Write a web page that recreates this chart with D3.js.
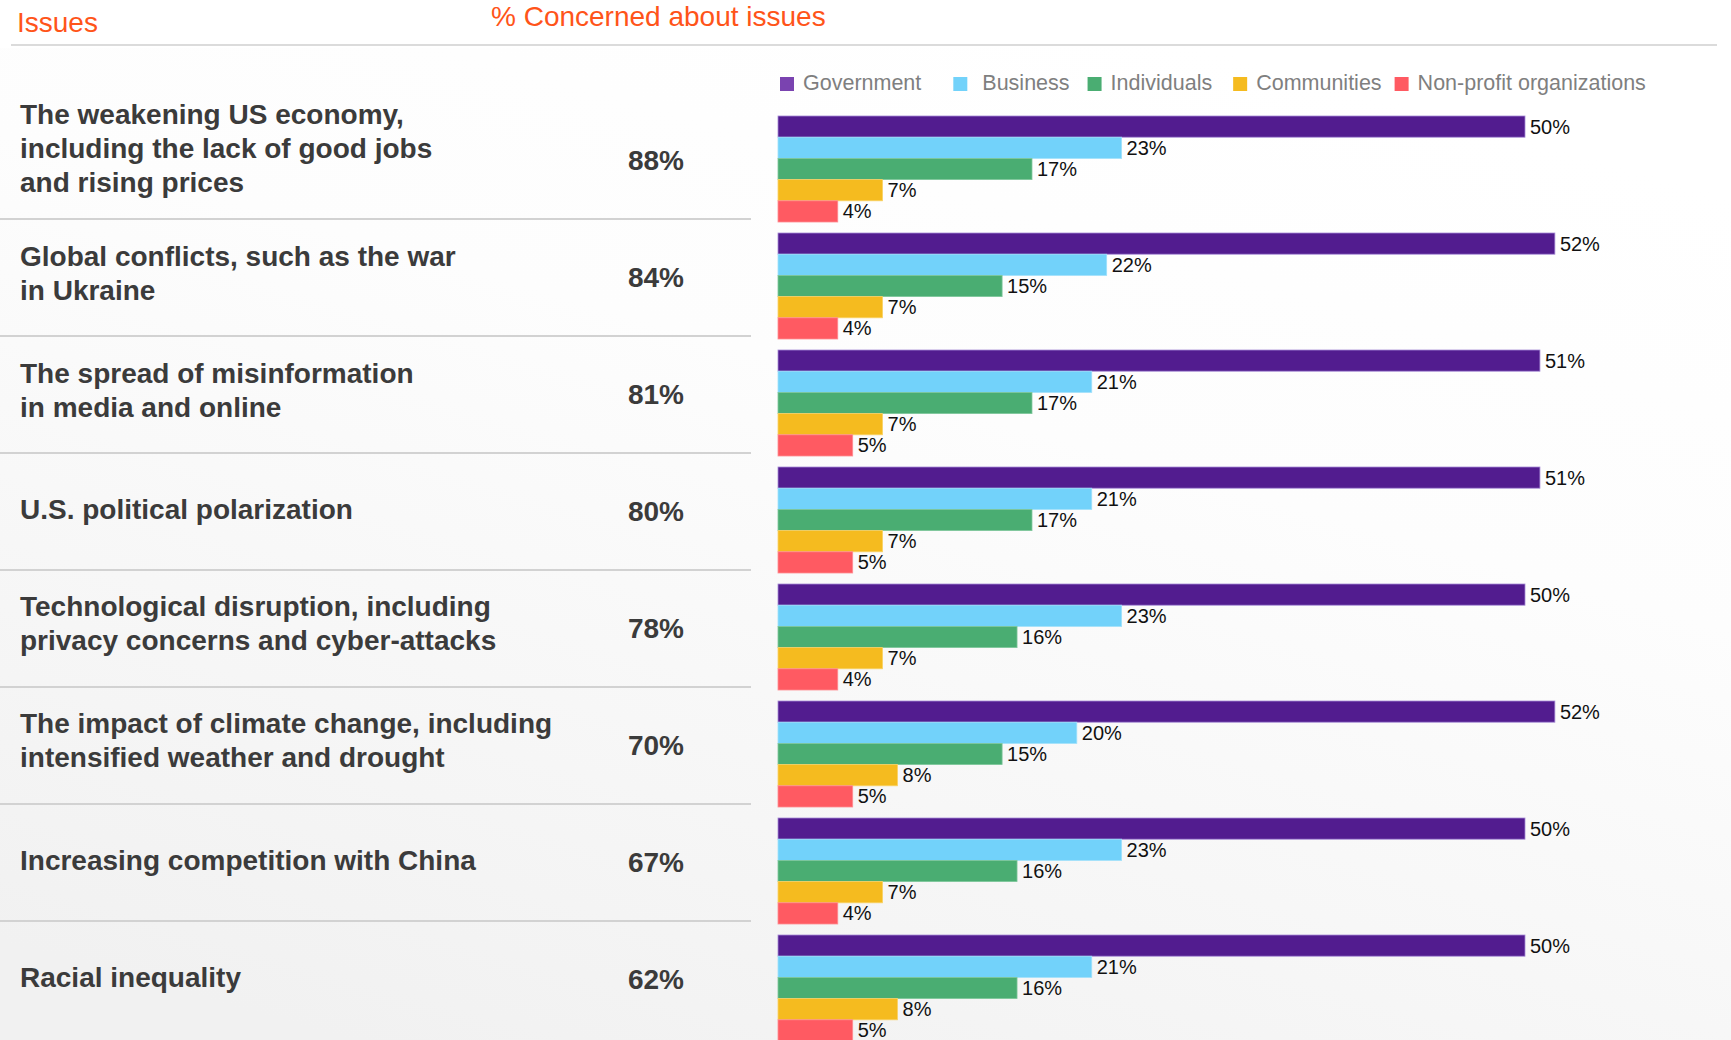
<!DOCTYPE html>
<html>
<head>
<meta charset="utf-8">
<script src="https://cdn.jsdelivr.net/npm/d3@7"></script>
<style>
  body { margin: 0; background: #fff; }
  svg { display: block; font-family: "Liberation Sans", Arial, Helvetica, sans-serif; }
</style>
</head>
<body>
<div id="chart"></div>
<script>
// data
const issues = [
  'The weakening US economy,\nincluding the lack of good jobs\nand rising prices',
  'Global conflicts, such as the war\nin Ukraine',
  'The spread of misinformation\nin media and online',
  'U.S. political polarization',
  'Technological disruption, including\nprivacy concerns and cyber-attacks',
  'The impact of climate change, including\nintensified weather and drought',
  'Increasing competition with China',
  'Racial inequality'
]
const concerned = [88, 84, 81, 80, 78, 70, 67, 62]
const seriesNames = ['Government', 'Business', 'Individuals', 'Communities', 'Non-profit organizations']
const government = [50, 52, 51, 51, 50, 52, 50, 50]
const business = [23, 22, 21, 21, 23, 20, 23, 21]
const individuals = [17, 15, 17, 17, 16, 15, 16, 16]
const communities = [7, 7, 7, 7, 7, 8, 7, 8]
const nonprofit = [4, 4, 5, 5, 4, 5, 4, 5]

const seriesValues = [government, business, individuals, communities, nonprofit]
const colors = ['#521c8f', '#72d2fa', '#4aad72', '#f5bb1f', '#ff5a62']
const strokes = ['#a68bd6', '#9fe0fb', '#7fc79c', '#f9d266', '#ff8c92']
const legendColors = ['#7a43b0', '#72d2fa', '#4aad72', '#f5bb1f', '#ff5a62']

const width = 1731, height = 1040

const svg = d3.select('#chart').append('svg')
  .attr('width', width)
  .attr('height', height)

// faint background shading, heavier towards the bottom left
const defs = svg.append('defs')
const grad = defs.append('linearGradient')
  .attr('id', 'bgfade')
  .attr('x1', '70%').attr('y1', '0%')
  .attr('x2', '20%').attr('y2', '100%')
grad.append('stop').attr('offset', '0%').attr('stop-color', '#ffffff')
grad.append('stop').attr('offset', '35%').attr('stop-color', '#fdfdfd')
grad.append('stop').attr('offset', '100%').attr('stop-color', '#f1f1f1')

svg.append('rect')
  .attr('x', 0).attr('y', 48)
  .attr('width', width).attr('height', height - 48)
  .style('fill', 'url(#bgfade)')

// headers
svg.append('text')
  .attr('x', 17).attr('y', 32)
  .attr('font-size', 28)
  .attr('fill', '#ff5419')
  .text('Issues')

svg.append('text')
  .attr('x', 491).attr('y', 26)
  .attr('font-size', 28)
  .attr('fill', '#ff5419')
  .text('% Concerned about issues')

svg.append('line')
  .attr('x1', 11).attr('x2', 1717)
  .attr('y1', 45).attr('y2', 45)
  .attr('stroke', '#cfcfcf')
  .attr('stroke-width', 1.5)

// scales
const y = d3.scaleBand()
  .domain(d3.range(issues.length))
  .range([116, 1041])
  .paddingInner(0.094)
  .paddingOuter(0)

const ySub = d3.scaleBand()
  .domain(d3.range(seriesNames.length))
  .range([0, y.bandwidth()])

const x = d3.scaleLinear()
  .domain([0, 50])
  .range([778, 1525])

// legend
const legend = svg.append('g').attr('transform', 'translate(780,0)')
const legendGaps = [32, 18, 21, 13, 0]
let lx = 0
seriesNames.forEach((name, i) => {
  const item = legend.append('g').attr('transform', 'translate(' + lx + ',0)')
  const tx = i === 1 ? 29 : 23
  item.append('rect')
    .attr('x', 0).attr('y', 77)
    .attr('width', 14).attr('height', 14)
    .attr('fill', legendColors[i])
  const t = item.append('text')
    .attr('x', tx).attr('y', 90)
    .attr('font-size', 21.5)
    .attr('fill', '#7f7f7f')
    .text(name)
  lx += tx + t.node().getComputedTextLength() + legendGaps[i]
})

// row separators
svg.append('g').selectAll('line')
  .data(d3.range(1, issues.length))
  .join('line')
  .attr('x1', 0).attr('x2', 751)
  .attr('y1', d => y(d) - 14)
  .attr('y2', d => y(d) - 14)
  .attr('stroke', '#d2d2d2')
  .attr('stroke-width', 2)

// issue labels and % concerned
const rows = svg.append('g').selectAll('g')
  .data(issues)
  .join('g')

rows.append('text')
  .attr('font-size', 28)
  .attr('font-weight', 'bold')
  .attr('fill', '#3b3b3b')
  .each(function(d, i) {
    const lines = d.split('\n')
    const n = lines.length - 1
    const c = y(i) + y.bandwidth() / 2
    const first = c - n * 17 - n * n * 2.5 - 1
    d3.select(this).selectAll('tspan')
      .data(lines)
      .join('tspan')
      .attr('x', 20)
      .attr('y', (l, j) => first + j * 34)
      .text(l => l)
  })

rows.append('text')
  .attr('x', 684)
  .attr('y', (d, i) => y(i) + y.bandwidth() / 2 + 1)
  .attr('text-anchor', 'end')
  .attr('font-size', 28)
  .attr('font-weight', 'bold')
  .attr('fill', '#3b3b3b')
  .text((d, i) => concerned[i] + '%')

// bars
const groups = svg.append('g').selectAll('g')
  .data(issues)
  .join('g')
  .attr('transform', (d, i) => 'translate(0,' + y(i) + ')')

groups.each(function(d, i) {
  const g = d3.select(this)
  const vals = seriesValues.map(s => s[i])
  g.selectAll('rect')
    .data(vals)
    .join('rect')
    .attr('x', x(0))
    .attr('y', (v, j) => ySub(j))
    .attr('width', v => x(v) - x(0))
    .attr('height', ySub.bandwidth())
    .attr('fill', (v, j) => colors[j])
    .attr('stroke', (v, j) => strokes[j])
    .attr('stroke-width', 0.8)

  g.selectAll('text')
    .data(vals)
    .join('text')
    .attr('x', v => x(v) + 5)
    .attr('y', (v, j) => ySub(j) + ySub.bandwidth() / 2 + 7)
    .attr('font-size', 20)
    .attr('fill', '#111')
    .text(v => v + '%')
})
</script>
</body>
</html>
